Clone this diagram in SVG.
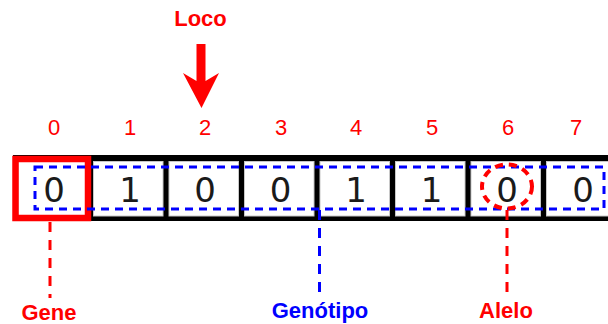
<svg xmlns="http://www.w3.org/2000/svg" width="608" height="324" viewBox="0 0 608 324">
  <style>
    .cell { fill: #ffffff; stroke: #c8c8c8; stroke-width: 1; }
    .digit { font-family: "DejaVu Sans", sans-serif; font-size: 34px; fill: #1a1a1a; text-anchor: middle; }
    .idx { font-family: "Liberation Sans", Arial, sans-serif; font-size: 22px; fill: #ff0000; text-anchor: middle; }
    .lbl { font-family: "Liberation Sans", Arial, sans-serif; font-size: 22px; font-weight: bold; text-anchor: middle; }
    .red { fill: #ff0000; }
    .blue { fill: #0000ff; }
    .dashR { stroke: #ff0000; stroke-width: 3; stroke-dasharray: 10 8; fill: none; }
    .dashB { stroke: #0000ff; stroke-width: 3; stroke-dasharray: 10 8; fill: none; }
  </style>

  <rect x="0" y="0" width="608" height="324" fill="#ffffff"/>

  <!-- Locus pointer -->
  <g id="loco">
    <text class="lbl red" x="200.5" y="26">Loco</text>
    <polygon fill="#ff0000" points="196.5,44 205.5,44 205.5,81 219,73 201.5,108 183,73 196.5,81"/>
  </g>

  <!-- Index labels -->
  <g id="indices">
    <text class="idx" x="54" y="135">0</text>
    <text class="idx" x="130" y="135">1</text>
    <text class="idx" x="205" y="135">2</text>
    <text class="idx" x="281" y="135">3</text>
    <text class="idx" x="356" y="135">4</text>
    <text class="idx" x="432" y="135">5</text>
    <text class="idx" x="508" y="135">6</text>
    <text class="idx" x="576" y="135">7</text>
  </g>

  <!-- Chromosome strip -->
  <g id="chromosome">
    <rect x="13" y="155" width="600" height="66" fill="#000000"/>
    <g id="cell0"><rect class="cell" x="18" y="161.5" width="69.5" height="54.5"/><text class="digit" x="54" y="202">0</text></g>
    <g id="cell1"><rect class="cell" x="93.5" y="161.5" width="69.5" height="54.5"/><text class="digit" x="130" y="202">1</text></g>
    <g id="cell2"><rect class="cell" x="169" y="161.5" width="69.5" height="54.5"/><text class="digit" x="205" y="202">0</text></g>
    <g id="cell3"><rect class="cell" x="244.5" y="161.5" width="69.5" height="54.5"/><text class="digit" x="280.5" y="202">0</text></g>
    <g id="cell4"><rect class="cell" x="320" y="161.5" width="69.5" height="54.5"/><text class="digit" x="356" y="202">1</text></g>
    <g id="cell5"><rect class="cell" x="395.5" y="161.5" width="69.5" height="54.5"/><text class="digit" x="431.5" y="202">1</text></g>
    <g id="cell6"><rect class="cell" x="471" y="161.5" width="69.5" height="54.5"/><text class="digit" x="507" y="202">0</text></g>
    <g id="cell7"><rect class="cell" x="546.5" y="161.5" width="69.5" height="54.5"/><text class="digit" x="583" y="202">0</text></g>
  </g>

  <!-- Highlights -->
  <g id="gene-box">
    <rect x="15.5" y="159" width="72.5" height="59" fill="none" stroke="#ff0000" stroke-width="6.5"/>
  </g>
  <g id="genotipo-box">
    <rect x="35" y="167" width="569" height="42" fill="none" stroke="#0000ff" stroke-width="3" stroke-dasharray="8 6"/>
  </g>
  <g id="alelo-circle">
    <ellipse cx="507" cy="186.5" rx="25" ry="22" fill="none" stroke="#ff0000" stroke-width="4" stroke-dasharray="8 6"/>
  </g>

  <!-- Connectors -->
  <g id="connectors">
    <line class="dashR" x1="50" y1="222" x2="50" y2="298"/>
    <line class="dashB" x1="319.5" y1="210" x2="319.5" y2="292"/>
    <line class="dashR" x1="507" y1="210" x2="507" y2="293"/>
  </g>

  <!-- Bottom labels -->
  <g id="gene-label"><text class="lbl red" x="49" y="320">Gene</text></g>
  <g id="genotipo-label"><text class="lbl blue" x="320" y="318">Genótipo</text></g>
  <g id="alelo-label"><text class="lbl red" x="506" y="318">Alelo</text></g>
</svg>
